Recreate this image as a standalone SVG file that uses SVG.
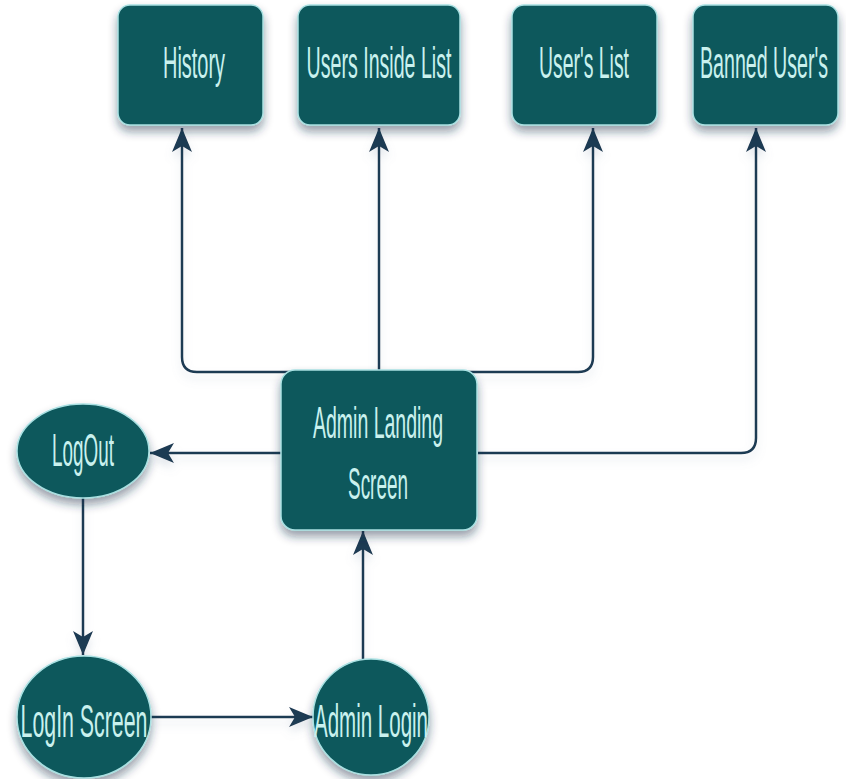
<svg xmlns="http://www.w3.org/2000/svg" width="846" height="779" viewBox="0 0 846 779">
  <defs>
    <filter id="sh" x="-20%" y="-20%" width="140%" height="150%">
      <feDropShadow dx="0" dy="6" stdDeviation="5" flood-color="#1a2f45" flood-opacity="0.45"/>
    </filter>
    <filter id="lsh" filterUnits="userSpaceOnUse" x="0" y="0" width="846" height="779">
      <feDropShadow dx="0" dy="6" stdDeviation="4" flood-color="#8a9bb0" flood-opacity="0.25"/>
    </filter>
    <marker id="ah" markerUnits="userSpaceOnUse" markerWidth="28" markerHeight="22" refX="24" refY="10" orient="auto">
      <path d="M0,0 L24,10 L0,20 L6,10 Z" fill="#1e3a52"/>
    </marker>
    <style>
      .node { fill: #10585b; stroke: #a8e0e2; stroke-width: 1.5; filter: url(#sh); }
      .lbl { font-family: "Liberation Sans", Arial, sans-serif; font-size: 44px; fill: #c9f1ee; text-anchor: middle; }
      .elbl { font-family: "Liberation Sans", Arial, sans-serif; font-size: 46px; fill: #c9f1ee; text-anchor: middle; }
      .edge { fill: none; stroke: #1e3a52; stroke-width: 2.5; }
    </style>
  </defs>
  <rect width="846" height="779" fill="#ffffff"/>

  <g id="connectors" filter="url(#lsh)">
    <path class="edge" d="M330,372 H197 Q182,372 182,357 V128" marker-end="url(#ah)"/>
    <path class="edge" d="M379,372 V128" marker-end="url(#ah)"/>
    <path class="edge" d="M428,372 H578 Q593,372 593,357 V128" marker-end="url(#ah)"/>
    <path class="edge" d="M478,453 H741 Q756,453 756,438 V128" marker-end="url(#ah)"/>
    <path class="edge" d="M281,453 H150" marker-end="url(#ah)"/>
    <path class="edge" d="M83,497 V655" marker-end="url(#ah)"/>
    <path class="edge" d="M151,717 H313" marker-end="url(#ah)"/>
    <path class="edge" d="M363,660 V531" marker-end="url(#ah)"/>
  </g>

  <g id="history">
    <rect class="node" x="118" y="5" width="145" height="120" rx="12"/>
    <text class="lbl" transform="matrix(0.453 0 0 1 194 78)">History</text>
  </g>
  <g id="users-inside-list">
    <rect class="node" x="298" y="5" width="162" height="120" rx="12"/>
    <text class="lbl" transform="matrix(0.446 0 0 1 379 78)">Users Inside List</text>
  </g>
  <g id="users-list">
    <rect class="node" x="512" y="5" width="145" height="120" rx="12"/>
    <text class="lbl" transform="matrix(0.441 0 0 1 584 78)">User's List</text>
  </g>
  <g id="banned-users">
    <rect class="node" x="693" y="5" width="145" height="120" rx="12"/>
    <text class="lbl" transform="matrix(0.446 0 0 1 764 78)">Banned User's</text>
  </g>
  <g id="admin-landing">
    <rect class="node" x="281" y="370" width="196" height="160" rx="14"/>
    <text class="lbl" transform="matrix(0.443 0 0 1 378 438)">Admin Landing</text>
    <text class="lbl" transform="matrix(0.43 0 0 1 378 499)">Screen</text>
  </g>
  <g id="logout">
    <ellipse class="node" cx="83" cy="451" rx="66" ry="47"/>
    <text class="elbl" transform="matrix(0.41 0 0 1 83 466)">LogOut</text>
  </g>
  <g id="login-screen">
    <ellipse class="node" cx="84" cy="717" rx="67" ry="61"/>
    <text class="elbl" transform="matrix(0.464 0 0 1 84 737)">LogIn Screen</text>
  </g>
  <g id="admin-login">
    <ellipse class="node" cx="371" cy="717" rx="58" ry="58"/>
    <text class="elbl" transform="matrix(0.446 0 0 1 371 737)">Admin Login</text>
  </g>
</svg>
